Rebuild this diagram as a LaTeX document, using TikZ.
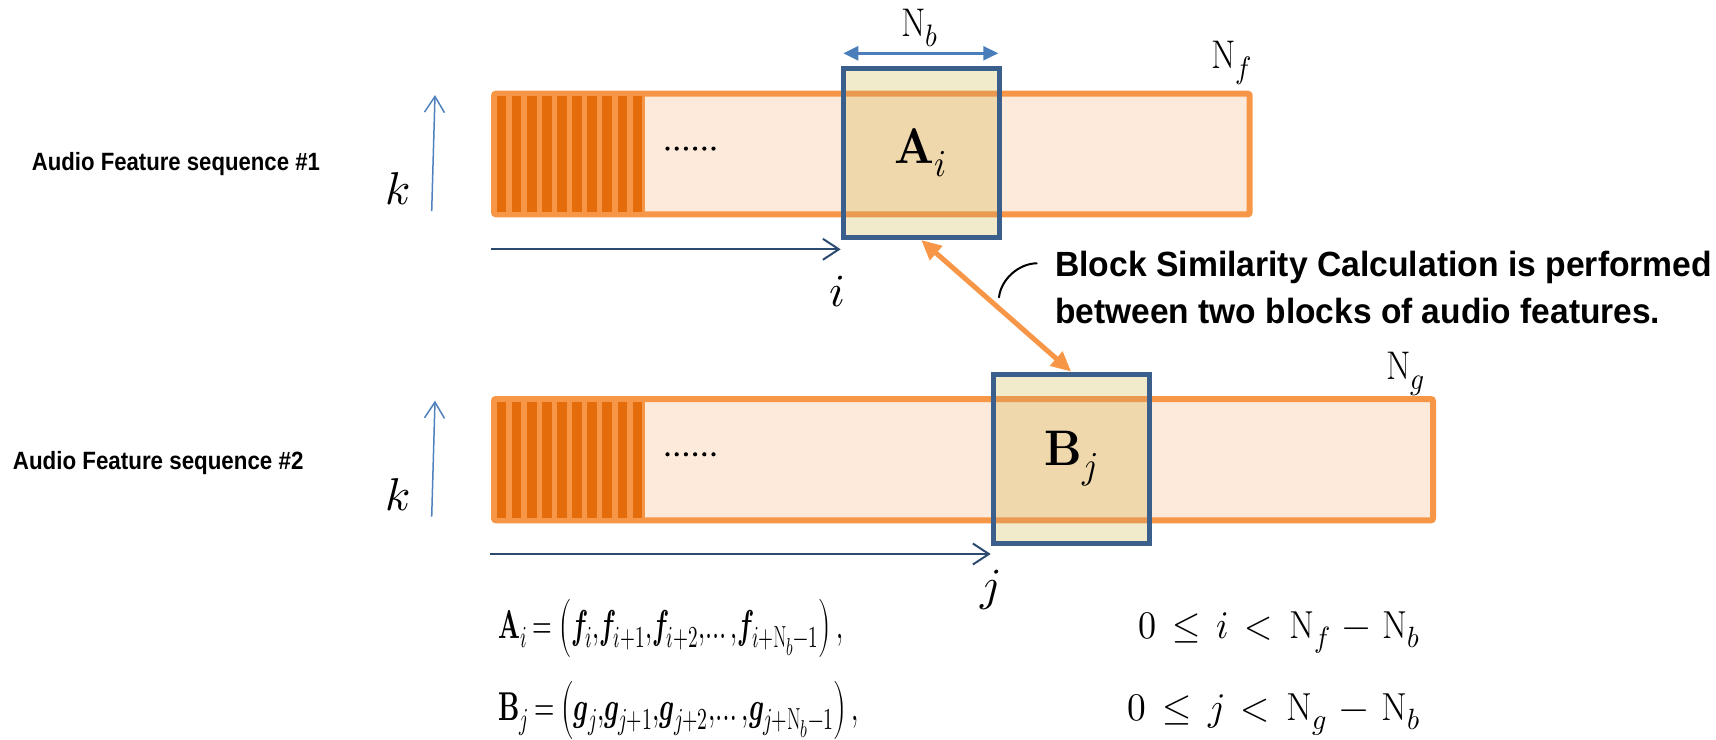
\documentclass[tikz,border=0pt]{standalone}
\usepackage{fontspec}
\usepackage{unicode-math}
\usepackage{graphicx}
\usetikzlibrary{arrows.meta}
\newfontfamily\labelfont{Liberation Sans}
\newcommand{\fitw}[2]{\resizebox{#1}{\height}{#2}}
\newcommand{\fitwh}[2]{\resizebox{#1}{1.22\height}{#2}}
\DeclareMathSizes{50}{50}{38}{30}
\DeclareMathSizes{33}{33}{25}{20}
\DeclareMathSizes{32}{32}{24}{19}
\DeclareMathSizes{40}{40}{31}{24}
\definecolor{barfill}{HTML}{FDEADA}
\definecolor{barline}{HTML}{F79646}
\definecolor{stripe}{HTML}{E46C0A}
\definecolor{blockfill}{HTML}{F2EBCB}
\definecolor{blockin}{HTML}{F0D8AD}
\definecolor{blockbar}{HTML}{EA9A50}
\definecolor{blockline}{HTML}{3B5F8C}
\definecolor{nbblue}{HTML}{4A7EBB}
\definecolor{kblue}{HTML}{4F81BD}
\definecolor{navy}{HTML}{2C4A70}
\definecolor{orangearrow}{HTML}{F79646}
\tikzset{
  bar/.style={draw=barline, fill=barfill, line width=6pt, rounded corners=2pt, inner sep=0pt, outer sep=0pt},
  blk/.style={draw=blockline, line width=5pt, inner sep=0pt, minimum width=156pt, minimum height=169.3pt, font=\fontsize{50pt}{54pt}\selectfont},
  nbarrow/.style={draw=nbblue, line width=2.5pt, {Triangle[length=15pt,width=14pt]}-{Triangle[length=15pt,width=14pt]}},
  karrow/.style={draw=kblue, line width=1.5pt, -{Straight Barb[length=16pt,width=20pt]}},
  iarrow/.style={draw=navy, line width=2pt, -{Straight Barb[length=16pt,width=21pt]}},
  oarrow/.style={draw=orangearrow, line width=5pt, {Triangle[length=20pt,width=18pt]}-{Triangle[length=20pt,width=18pt]}},
  audio/.style={font=\labelfont\bfseries\fontsize{25pt}{30pt}\selectfont, inner sep=0pt, anchor=base west},
  callout/.style={font=\labelfont\bfseries\fontsize{35pt}{42pt}\selectfont, inner sep=0pt, anchor=base west},
  bigmath/.style={font=\fontsize{46pt}{50pt}\selectfont, inner sep=0pt, anchor=base},
  nlab/.style={font=\fontsize{40pt}{44pt}\selectfont, inner sep=0pt, anchor=base},
  eq/.style={font=\fontsize{33pt}{37pt}\selectfont, inner sep=0pt, anchor=base west},
  eqr/.style={font=\fontsize{32pt}{36pt}\selectfont, inner sep=0pt, anchor=base west},
}
\begin{document}
\begin{tikzpicture}[x=1pt,y=-1pt]
\useasboundingbox (0,0) rectangle (1716,739);

% ---- bars
\node[bar, minimum width=755.7pt, minimum height=120.6pt] (bar1) at (871.85,154) {};
\node[bar, minimum width=939pt, minimum height=121.3pt] (bar2) at (963.5,459.65) {};
\fill[barline] (bar1.north west) rectangle (645,214.3);
\fill[barline] (bar2.north west) rectangle (645,520.3);
\foreach \k in {0,...,9}{
  \fill[stripe] ({496.7+15.1*\k},96.4) rectangle ++(9.6,115.2);
  \fill[stripe] ({496.7+15.1*\k},401.7) rectangle ++(9.6,116);
}
% dots
\foreach \k in {0,...,5}{
  \fill ({667.5+9.2*\k},148.6) circle (2.1);
  \fill ({667.5+9.2*\k},454.3) circle (2.1);
}

% ---- block A
\fill[blockfill] (843.2,68.2) rectangle (999.2,237.5);
\begin{scope}
  \clip (843.2,68.2) rectangle (999.2,237.5);
  \draw[line width=6pt, draw=blockbar, fill=blockin, rounded corners=2pt] (bar1.north west) rectangle (bar1.south east);
\end{scope}
\node[blk] (A) at (921.2,152.85) {\scalebox{0.92}[1]{$\symbf{A}_i$}};

% ---- block B
\fill[blockfill] (993.2,374.2) rectangle (1149.2,543.5);
\begin{scope}
  \clip (993.2,374.2) rectangle (1149.2,543.5);
  \draw[line width=6pt, draw=blockbar, fill=blockin, rounded corners=2pt] (bar2.north west) rectangle (bar2.south east);
\end{scope}
\node[blk] (B) at (1071.2,458.85) {\scalebox{0.92}[1]{$\symbf{B}_j$}};

% ---- arrows
\coordinate (nbl) at (843.3,53.3);
\coordinate (nbr) at (998.3,53.3);
\draw[nbarrow] (nbl) -- (nbr);
\node[nlab] (Nb) at (920,36.7) {\scalebox{0.88}[1]{$\mathrm{N}_b$}};
\node[nlab] (Nf) at (1231.7,68.3) {\scalebox{0.88}[1]{$\mathrm{N}_f$}};
\node[nlab] (Ng) at (1405.8,379.3) {\scalebox{0.88}[1]{$\mathrm{N}_g$}};

\coordinate (k1s) at (431.7,211);
\coordinate (k1e) at (435,95);
\coordinate (k2s) at (431.7,516.7);
\coordinate (k2e) at (435,400.7);
\draw[karrow] (k1s) -- (k1e);
\draw[karrow] (k2s) -- (k2e);
\node[bigmath] (k1) at (398.3,204.3) {$k$};
\node[bigmath] (k2) at (398.3,510) {$k$};

\coordinate (i0) at (491,249.3);
\coordinate (j0) at (490,554);
\draw[iarrow] (i0) -- (i0 -| A.west);
\draw[iarrow] (j0) -- (j0 -| B.west);
\node[bigmath] (ilab) at (837.5,306) {$i$};
\node[bigmath] (jlab) at (990,600) {$j$};

\draw[oarrow] (A.south) -- (B.north);

% ---- callout
\coordinate (c1) at (1036.7,263.3);
\coordinate (c2) at (999,297.3);
\draw[line width=2pt, line cap=round] (c1) .. controls (1019,263.5) and (1001,279) .. (c2);
\node[callout] (cl1) at (1055,276.7) {\fitw{657pt}{Block Similarity Calculation is performed}};
\node[callout] (cl2) at (1055,323.3) {\fitw{605pt}{between two blocks of audio features.}};

% ---- side labels
\node[audio] (lab1) at (31.7,170.7) {\fitw{288pt}{Audio Feature sequence \#1}};
\node[audio] (lab2) at (12.7,469.3) {\fitw{290.6pt}{Audio Feature sequence \#2}};

% ---- equations
\node[eq] (eq1) at (498,638) {\fitwh{345pt}{$\thickmuskip=4mu\symbf{A}_i = \left(\symbfit{f}_i,\!\symbfit{f}_{i+1},\!\symbfit{f}_{i+2},\!\dots,\!\symbfit{f}_{i+\mathrm{N}_b-1}\right),$}};
\node[eqr] (eq1r) at (1138,638) {\fitwh{282pt}{$\thickmuskip=8mu\medmuskip=6mu 0\leq i<\mathrm{N}_f-\mathrm{N}_b$}};
\node[eq] (eq2) at (498,720) {\fitwh{361pt}{$\thickmuskip=4mu\symbf{B}_j = \left(\symbfit{g}_j,\!\symbfit{g}_{j+1},\!\symbfit{g}_{j+2},\!\dots,\!\symbfit{g}_{j+\mathrm{N}_b-1}\right),$}};
\node[eqr] (eq2r) at (1127,720) {\fitwh{293pt}{$\thickmuskip=8mu\medmuskip=6mu 0\leq j<\mathrm{N}_g-\mathrm{N}_b$}};
\end{tikzpicture}
\end{document}
